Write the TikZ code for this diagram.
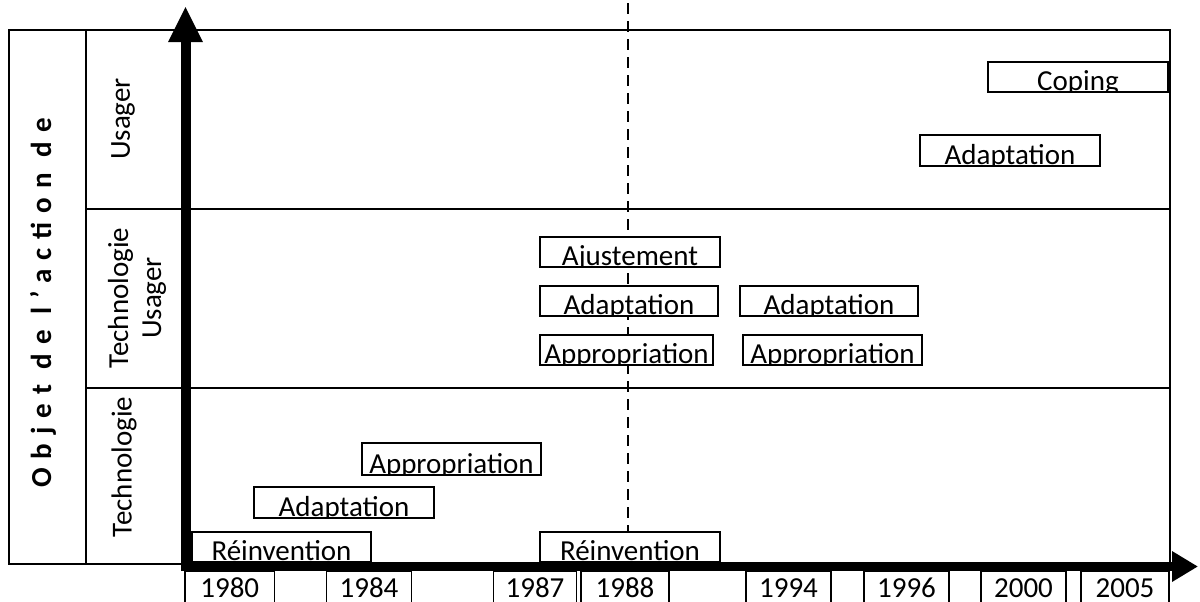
\documentclass[tikz,border=0pt]{standalone}
\usepackage{fontspec}
\setmainfont{Carlito}
\newfontfamily\spacedfont{Carlito}[LetterSpace=31]
\usetikzlibrary{arrows.meta}
\newcommand\txtbox[6]{%
  \fill[white] (#2,#3) rectangle (#4,#5);
  \begin{scope}
    \clip (#2,#3) rectangle (#4,#5);
    \node[lbl] (#1) at ({(#2+#4)/2},{#5-2}) {#6};
  \end{scope}
  \draw[boxline] (#2,#3) rectangle (#4,#5);
}
\newcommand\yearbox[4]{%
  \draw[yearline] (#2,571) rectangle (#3,615);
  \node[lbl] (#1) at ({(#2+#3)/2},597) {#4};
}
\begin{document}
\begin{tikzpicture}[x=0.5pt,y=-0.5pt,
  tline/.style={line width=1.2pt},
  boxline/.style={draw=black,line width=1pt},
  yearline/.style={draw=black,line width=0.9pt},
  lbl/.style={font=\fontsize{14.5}{16}\selectfont,inner sep=0pt,anchor=base},
  sidelbl/.style={font=\fontsize{14.5}{16.5}\selectfont,inner sep=0pt,rotate=90,align=center},
]
\useasboundingbox (0,0) rectangle (1200,601);
\clip (0,0) rectangle (1200,601);

% dashed reference line
\coordinate (dtop) at (628,3);
\coordinate (dbot) at (628,590);
\draw[line width=1.1pt,dash pattern=on 5.5pt off 3.5pt] (dtop) -- (dbot);

% table
\draw[tline] (9,30) rectangle (1170,564);
\draw[tline] (86,30) -- (86,564);
\draw[tline] (86,209) -- (1170,209);
\draw[tline] (86,388) -- (1170,388);

% side labels
\node[sidelbl] (objet) at (43,303) {\spacedfont\bfseries Objet de l’action de};
\node[sidelbl] (usg) at (123,119) {Usager};
\node[sidelbl] (techusg) at (137,298) {Technologie\\Usager};
\node[sidelbl] (tech) at (124,467) {Technologie};

% year boxes
\yearbox{y1980}{185}{274.5}{1980}
\yearbox{y1984}{326.5}{411.5}{1984}
\yearbox{y1987}{493.5}{576.5}{1987}
\yearbox{y1988}{581}{669}{1988}
\yearbox{y1994}{746}{831}{1994}
\yearbox{y1996}{864}{949}{1996}
\yearbox{y2000}{981}{1066}{2000}
\yearbox{y2005}{1081}{1169}{2005}

% axes
\coordinate (ybot) at (185.5,571);
\coordinate (ytip) at (185.5,6);
\coordinate (xleft) at (181,566.5);
\coordinate (xtip) at (1198,566.5);
\draw[line width=5pt,-{Triangle[length=18pt,width=16pt]}] (ybot) -- (ytip);
\draw[line width=4.5pt,-{Triangle[length=13pt,width=14.5pt]}] (xleft) -- (xtip);

% text boxes
\txtbox{b1}{988}{62}{1168}{92}{Coping}
\txtbox{b2}{920}{135}{1100}{166}{Adaptation}
\txtbox{b3}{540}{237}{720}{267}{Ajustement}
\txtbox{b4}{540}{286}{718}{316}{Adaptation}
\txtbox{b5}{540}{335}{713}{365}{Appropriation}
\txtbox{b6}{740}{286}{918}{316}{Adaptation}
\txtbox{b7}{743}{335}{922}{365}{Appropriation}
\txtbox{b8}{362}{443}{541}{475}{Appropriation}
\txtbox{b9}{254}{487}{434}{518}{Adaptation}
\txtbox{b10}{192}{532}{371}{562}{Réinvention}
\txtbox{b11}{540}{532}{720}{562}{Réinvention}
\end{tikzpicture}
\end{document}
